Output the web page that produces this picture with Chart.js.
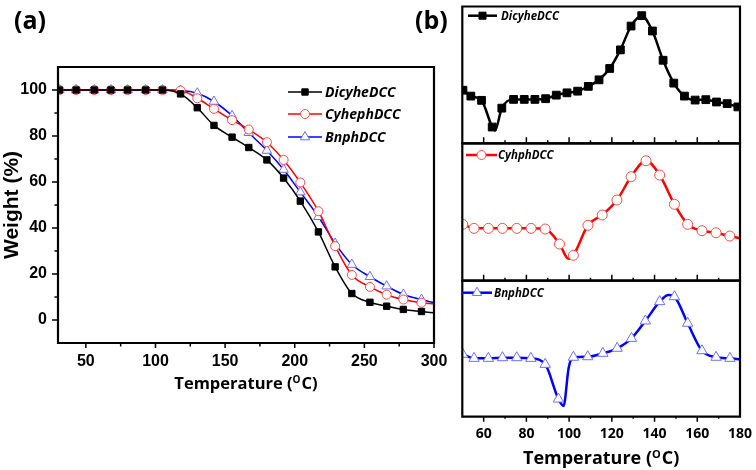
<!DOCTYPE html>
<html>
<head>
<meta charset="utf-8">
<script src="https://cdn.jsdelivr.net/npm/chart.js@4.4.1/dist/chart.umd.min.js"></script>
<style>
  body { margin: 0; background: #fff; }
  #wrap { position: relative; width: 756px; height: 470px; }
  canvas { position: absolute; top: 0; }
</style>
</head>
<body>
<div id="wrap">
  <canvas id="tga" width="450" height="470" style="left:0"></canvas>
  <canvas id="dsc1" width="306" height="470" style="left:450px"></canvas>
  <canvas id="dsc2" width="306" height="470" style="left:450px"></canvas>
  <canvas id="dsc3" width="306" height="470" style="left:450px"></canvas>
</div>
<script>
// (a) TGA curves, weight % vs temperature
const tgaTemp = [31, 43, 56, 68, 80, 93, 105, 118, 130, 142, 155, 167, 180, 192, 204, 217, 229, 241, 254, 266, 278, 291, 300];
const dicyheWeight = [100, 100, 100, 100, 100, 100, 100, 98.3, 92.3, 84.6, 79.5, 75, 69.6, 61.7, 51.7, 38.3, 23.1, 11.5, 7.7, 6.0, 4.6, 3.7, 3.1];
const cyhephWeight = [100, 100, 100, 100, 100, 100, 100, 99.8, 96.4, 91.8, 86.9, 82.8, 77.3, 69.6, 59.8, 47.3, 32.1, 19.6, 14.4, 11.0, 8.9, 7.5, 7.0];
const bnphWeight = [100, 100, 100, 100, 100, 100, 100, 99.8, 98.6, 95, 88.8, 81.4, 73.7, 65.4, 55.6, 44.9, 33.3, 24.1, 18.8, 14.7, 11.1, 8.9, 7.5];
const tgaXLabels = [50, 100, 150, 200, 250, 300];
const tgaYLabels = [0, 20, 40, 60, 80, 100];

// (b) DSC curves (arbitrary heat flow units); temps in noMark are curve points without a symbol
const dicyheTemp = [50.3, 54, 59, 64, 65.3, 68.5, 74, 79, 84, 89, 94, 99, 104, 109, 114, 119, 124, 129, 134, 139, 144, 149, 154, 159, 164, 169, 174, 179, 180];
const dicyheHeat = [38.8, 34.5, 31.4, 11.9, 9.3, 25.7, 32.1, 32.1, 32.1, 32.6, 35.2, 36.9, 38.1, 41.6, 46.4, 54.7, 68.3, 85.7, 93.3, 82.1, 60.7, 44, 34.5, 31.6, 31.9, 30.2, 29, 26.6, 26.3];
const dicyheNoMark = [65.3, 180];

const cyhphTemp = [50.2, 55.5, 62.2, 68.8, 75.5, 82.2, 88.8, 95.5, 99.7, 102, 108.8, 115.5, 122.4, 129, 136, 142.4, 149.3, 155.5, 162.2, 168.8, 175.2, 180];
const cyhphHeat = [41, 38.1, 38.1, 38.1, 38.1, 38.1, 37.6, 26.7, 16, 18.5, 40.3, 47.8, 58.7, 75.7, 87.3, 76.9, 55.6, 41, 36.4, 34.9, 32.5, 30.9];
const cyhphNoMark = [99.7, 180];

const bnphTemp = [50.2, 55.5, 62.2, 68.8, 75.5, 82.1, 88.8, 95, 97.4, 99.8, 102, 108.7, 115.8, 122.5, 129.2, 135.7, 142.4, 146.5, 149.3, 155.5, 162.2, 168.8, 175.3, 180];
const bnphHeat = [45.9, 42.9, 42.9, 43.4, 43.4, 42.9, 38.5, 13, 7.9, 36, 43.7, 44.1, 46.6, 50.3, 57.6, 70.4, 84.6, 89.5, 88.2, 68.7, 48.5, 43.7, 42.9, 42.2];
const bnphNoMark = [97.4, 99.8, 146.5, 180];

const dscXLabels = [60, 80, 100, 120, 140, 160, 180];

const BLACK = '#000000';
const RED = '#ff0000';
const RED_MARK = '#ff4a4a';
const BLUE = '#0000ff';
const BLUE_MARK = '#6e6eff';

function pairs(xs, ys) {
  return xs.map((x, i) => ({ x: x, y: ys[i] }));
}

function drawMark(ctx, style, x, y, r, fill, stroke) {
  ctx.beginPath();
  if (style === 'rect') {
    const s = r * Math.SQRT1_2;
    ctx.rect(x - s, y - s, 2 * s, 2 * s);
  } else if (style === 'circle') {
    ctx.arc(x, y, r, 0, Math.PI * 2);
  } else {
    ctx.moveTo(x, y - r);
    ctx.lineTo(x + r * 0.866, y + r * 0.5);
    ctx.lineTo(x - r * 0.866, y + r * 0.5);
    ctx.closePath();
  }
  ctx.fillStyle = fill;
  ctx.fill();
  ctx.lineWidth = 1;
  ctx.strokeStyle = stroke;
  ctx.stroke();
}

function drawLegendItem(ctx, item) {
  ctx.save();
  ctx.strokeStyle = item.color;
  ctx.lineWidth = item.lw;
  ctx.beginPath();
  ctx.moveTo(item.x0, item.y);
  ctx.lineTo(item.x1, item.y);
  ctx.stroke();
  drawMark(ctx, item.style, (item.x0 + item.x1) / 2, item.y, item.r, item.fill, item.stroke);
  ctx.fillStyle = '#000';
  ctx.font = item.font;
  ctx.textBaseline = 'middle';
  ctx.textAlign = 'left';
  ctx.fillText(item.text, item.tx, item.y + 1);
  ctx.restore();
}

// "Temperature (°C)" with a raised O as in the original figure
function drawTempTitle(ctx, cx, cy, size) {
  const main = 'bold ' + size + 'px "Open Sans"';
  const sup = 'bold ' + Math.round(size * 0.62) + 'px "Open Sans"';
  const a = 'Temperature (', b = 'O', c = 'C)';
  ctx.save();
  ctx.fillStyle = '#000';
  ctx.textBaseline = 'alphabetic';
  ctx.textAlign = 'left';
  ctx.font = main;
  const wa = ctx.measureText(a).width, wc = ctx.measureText(c).width;
  ctx.font = sup;
  const wb = ctx.measureText(b).width + 1;
  let x = cx - (wa + wb + wc) / 2;
  const base = cy + size * 0.36;
  ctx.font = main;
  ctx.fillText(a, x, base);
  x += wa;
  ctx.font = sup;
  ctx.fillText(b, x, base - size * 0.38);
  x += wb;
  ctx.font = main;
  ctx.fillText(c, x, base);
  ctx.restore();
}

function frame(ctx, a) {
  ctx.save();
  ctx.strokeStyle = '#000000';
  ctx.lineWidth = 2.2;
  ctx.beginPath();
  ctx.rect(a.left, a.top, a.right - a.left, a.bottom - a.top);
  ctx.stroke();
  ctx.restore();
}

// ---------- (a) ----------
const tgaDecor = {
  id: 'tgaDecor',
  afterDraw(chart) {
    const ctx = chart.ctx;
    const a = chart.chartArea;
    const x = chart.scales.x, y = chart.scales.y;
    ctx.save();
    ctx.strokeStyle = '#000000';
    ctx.lineWidth = 1.5;
    ctx.beginPath();
    for (let v = 50; v <= 300; v += 25) {
      const px = x.getPixelForValue(v);
      const len = v % 50 === 0 ? 5 : 3.5;
      ctx.moveTo(px, a.bottom);
      ctx.lineTo(px, a.bottom + len);
    }
    for (let v = 0; v <= 100; v += 10) {
      const py = y.getPixelForValue(v);
      const len = v % 20 === 0 ? 6 : 3.5;
      ctx.moveTo(a.left, py);
      ctx.lineTo(a.left - len, py);
    }
    ctx.stroke();
    ctx.restore();
    frame(ctx, a);

    ctx.save();
    ctx.fillStyle = '#000';
    ctx.font = 'bold 25px "Open Sans"';
    ctx.textBaseline = 'middle';
    ctx.fillText('(a)', 14, 22);
    ctx.fillText('(b)', 415, 22);

    ctx.save();
    ctx.translate(12, (a.top + a.bottom) / 2);
    ctx.rotate(-Math.PI / 2);
    ctx.textAlign = 'center';
    ctx.font = 'bold 21px "Liberation Sans"';
    ctx.fillText('Weight (%)', 0, 0);
    ctx.restore();

    drawTempTitle(ctx, (a.left + a.right) / 2, 383, 16.5);

    const lf = 'italic bold 14px "Open Sans"';
    drawLegendItem(ctx, { x0: 288, x1: 322, y: 92, color: BLACK, lw: 1.5, style: 'rect', r: 4.5, fill: BLACK, stroke: BLACK, text: 'DicyheDCC', tx: 325, font: lf });
    drawLegendItem(ctx, { x0: 288, x1: 322, y: 114, color: RED, lw: 1.5, style: 'circle', r: 4.5, fill: '#fff', stroke: RED_MARK, text: 'CyhephDCC', tx: 325, font: lf });
    drawLegendItem(ctx, { x0: 288, x1: 322, y: 137, color: BLUE, lw: 1.5, style: 'triangle', r: 5.5, fill: '#fff', stroke: BLUE_MARK, text: 'BnphDCC', tx: 325, font: lf });
    ctx.restore();
  }
};

const tickFontA = { family: 'Liberation Sans', weight: 'bold', size: 16 };

new Chart(document.getElementById('tga'), {
  type: 'line',
  data: {
    datasets: [
      {
        label: 'DicyheDCC', data: pairs(tgaTemp, dicyheWeight),
        borderColor: BLACK, borderWidth: 1.5, pointStyle: 'rect',
        pointRadius: tgaTemp.map(t => t < 300 ? 4.5 : 0),
        pointBackgroundColor: BLACK, pointBorderColor: BLACK, pointBorderWidth: 1,
        cubicInterpolationMode: 'monotone'
      },
      {
        label: 'CyhephDCC', data: pairs(tgaTemp, cyhephWeight),
        borderColor: RED, borderWidth: 1.5, pointStyle: 'circle',
        pointRadius: tgaTemp.map(t => t < 300 ? 4.5 : 0),
        pointBackgroundColor: '#fff', pointBorderColor: RED_MARK, pointBorderWidth: 1,
        cubicInterpolationMode: 'monotone'
      },
      {
        label: 'BnphDCC', data: pairs(tgaTemp, bnphWeight),
        borderColor: BLUE, borderWidth: 1.5, pointStyle: 'triangle',
        pointRadius: tgaTemp.map(t => t < 300 ? 5.5 : 0),
        pointBackgroundColor: '#fff', pointBorderColor: BLUE_MARK, pointBorderWidth: 1,
        cubicInterpolationMode: 'monotone'
      }
    ]
  },
  options: {
    responsive: false,
    animation: false,
    layout: { padding: { top: 67, right: 16, left: 0, bottom: 0 } },
    plugins: { legend: { display: false }, tooltip: { enabled: false } },
    scales: {
      x: {
        type: 'linear', min: 30, max: 300,
        grid: { display: false, drawTicks: false },
        border: { display: true, color: '#000', width: 2 },
        afterBuildTicks: s => { s.ticks = tgaXLabels.map(v => ({ value: v })); },
        afterFit: s => { s.height = 127; s.paddingLeft = 0; s.paddingRight = 0; },
        ticks: { font: tickFontA, color: '#000', padding: 9, maxRotation: 0 }
      },
      y: {
        type: 'linear', min: -10, max: 110,
        grid: { display: false, drawTicks: false },
        border: { display: true, color: '#000', width: 2 },
        afterBuildTicks: s => { s.ticks = tgaYLabels.map(v => ({ value: v })); },
        afterFit: s => { s.width = 58; s.paddingTop = 0; s.paddingBottom = 0; },
        ticks: { font: tickFontA, color: '#000', padding: 11 }
      }
    }
  },
  plugins: [tgaDecor]
});

// ---------- (b) ----------
function makeDsc(id, cfg) {
  const decor = {
    id: 'dscDecor',
    afterDraw(chart) {
      const ctx = chart.ctx;
      const a = chart.chartArea;
      const x = chart.scales.x;
      ctx.save();
      ctx.strokeStyle = '#000000';
      ctx.lineWidth = 1.5;
      ctx.beginPath();
      for (let v = 60; v <= 170; v += 10) {
        const px = x.getPixelForValue(v);
        const len = v % 20 === 0 ? 6 : 3;
        ctx.moveTo(px, a.bottom);
        ctx.lineTo(px, cfg.bottom ? a.bottom + len - 1 : a.bottom - len);
      }
      ctx.stroke();
      ctx.restore();
      frame(ctx, a);
      drawLegendItem(ctx, cfg.legend);
      if (cfg.bottom) {
        drawTempTitle(ctx, (a.left + a.right) / 2, 458, 18);
      }
    }
  };
  return new Chart(document.getElementById(id), {
    type: 'line',
    data: {
      datasets: [{
        label: cfg.legend.text, data: pairs(cfg.temps, cfg.vals),
        borderColor: cfg.color, borderWidth: 2.5, pointStyle: cfg.style,
        pointRadius: cfg.temps.map(t => cfg.noMark.includes(t) ? 0 : cfg.r),
        pointBackgroundColor: cfg.fill, pointBorderColor: cfg.markColor, pointBorderWidth: 1,
        cubicInterpolationMode: 'monotone'
      }]
    },
    options: {
      responsive: false,
      animation: false,
      layout: { padding: { top: cfg.top, bottom: cfg.padBottom, left: 12.3, right: 16 } },
      plugins: { legend: { display: false }, tooltip: { enabled: false } },
      scales: {
        x: {
          type: 'linear', min: 50, max: 180, display: cfg.bottom,
          grid: { display: false, drawTicks: false }, border: { display: false },
          afterBuildTicks: s => { s.ticks = dscXLabels.map(v => ({ value: v })); },
          afterFit: s => {
            if (cfg.bottom) s.height = 53.3;
            s.paddingLeft = 0; s.paddingRight = 0;
          },
          ticks: { font: { family: 'Open Sans', weight: 'bold', size: 14 }, color: '#000', padding: 9, maxRotation: 0 }
        },
        y: { type: 'linear', min: 0, max: 100, display: false }
      }
    },
    plugins: [decor]
  });
}

const lfB = 'italic bold 11.5px "Open Sans"';

makeDsc('dsc1', {
  temps: dicyheTemp, vals: dicyheHeat, noMark: dicyheNoMark,
  color: BLACK, markColor: BLACK, fill: BLACK, style: 'rect', r: 5.5,
  top: 5, padBottom: 326.7, bottom: false,
  legend: { x0: 18, x1: 47, y: 15.7, color: BLACK, lw: 2.5, style: 'rect', r: 5, fill: BLACK, stroke: BLACK, text: 'DicyheDCC', tx: 51, font: lfB }
});

makeDsc('dsc2', {
  temps: cyhphTemp, vals: cyhphHeat, noMark: cyhphNoMark,
  color: RED, markColor: RED_MARK, fill: '#fff', style: 'circle', r: 5,
  top: 143.3, padBottom: 189.3, bottom: false,
  legend: { x0: 16, x1: 47, y: 155, color: RED, lw: 2.5, style: 'circle', r: 4.5, fill: '#fff', stroke: RED_MARK, text: 'CyhphDCC', tx: 48, font: lfB }
});

makeDsc('dsc3', {
  temps: bnphTemp, vals: bnphHeat, noMark: bnphNoMark,
  color: BLUE, markColor: BLUE_MARK, fill: '#fff', style: 'triangle', r: 6,
  top: 280.7, padBottom: 0, bottom: true,
  legend: { x0: 12, x1: 42, y: 292.7, color: BLUE, lw: 2.5, style: 'triangle', r: 5.5, fill: '#fff', stroke: BLUE_MARK, text: 'BnphDCC', tx: 44, font: lfB }
});
</script>
</body>
</html>
